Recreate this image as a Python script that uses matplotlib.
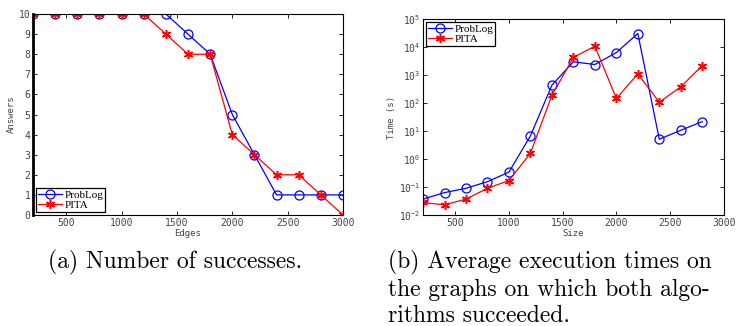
import matplotlib
matplotlib.use("Agg")
import matplotlib.pyplot as plt

# (a) number of successes
edges = [200, 400, 600, 800, 1000, 1200, 1400, 1600, 1800, 2000, 2200, 2400, 2600, 2800, 3000]
problog_ans = [10, 10, 10, 10, 10, 10, 10, 9, 8, 5, 3, 1, 1, 1, 1]
pita_ans = [10, 10, 10, 10, 10, 10, 9, 8, 8, 4, 3, 2, 2, 1, 0]

# (b) average execution times
sizes = [200, 400, 600, 800, 1000, 1200, 1400, 1600, 1800, 2000, 2200, 2400, 2600, 2800]
problog_t = [0.037, 0.063, 0.09, 0.155, 0.34, 6.7, 433, 2960, 2370, 6330, 30300, 5.1, 10.6, 21.7]
pita_t = [0.028, 0.023, 0.037, 0.09, 0.17, 1.6, 190, 4230, 10700, 145, 1100, 107, 377, 2180]

legfont = {"family": "Liberation Serif", "size": 8}
labfont = dict(family="DejaVu Sans Mono", size=6.5)
star = (6, 2, 0)  # asterisk marker, like matlab's '*'

fig = plt.figure(figsize=(7.37, 3.26), dpi=100)
ax1 = fig.add_axes([0.0448, 0.3405, 0.4206, 0.6165])
ax2 = fig.add_axes([0.574, 0.3405, 0.408, 0.6012])

def style(ax):
    ax.tick_params(direction="in", top=True, right=True, length=3, width=0.6,
                   labelsize=7, labelcolor="#444444", pad=2)
    for lab in ax.get_xticklabels() + ax.get_yticklabels():
        lab.set_family("DejaVu Sans Mono")
    for s in ax.spines.values():
        s.set_linewidth(0.8)

ax1.plot(edges, problog_ans, "-o", color="blue", mfc="none", mec="blue", ms=6.5, lw=0.9,
         mew=0.9, label="ProbLog")
ax1.plot(edges, pita_ans, "-", marker=star, color="red", ms=6.5, lw=0.9, mew=1.1, label="PITA")
ax1.set_xlim(200, 3000)
ax1.set_ylim(0, 10)
ax1.set_xticks([500, 1000, 1500, 2000, 2500, 3000])
ax1.set_yticks(range(0, 11))
style(ax1)
ax1.spines["left"].set_linewidth(2.0)
ax1.set_xlabel("Edges", fontdict=labfont, color="#444444", labelpad=1)
ax1.set_ylabel("Answers", fontdict=labfont, color="#444444", labelpad=2)
leg1 = ax1.legend(loc="lower left", prop=legfont, fancybox=False, edgecolor="black",
                  framealpha=1, borderpad=0.15, handlelength=2.2, handletextpad=0.2,
                  labelspacing=0.05, borderaxespad=0.3)
leg1.get_frame().set_linewidth(0.9)

ax2.plot(sizes, problog_t, "-o", color="blue", mfc="none", mec="blue", ms=6.5, lw=0.9,
         mew=0.9, label="ProbLog")
ax2.plot(sizes, pita_t, "-", marker=star, color="red", ms=6.5, lw=0.9, mew=1.1, label="PITA")
ax2.set_yscale("log")
ax2.set_xlim(200, 3000)
ax2.set_ylim(1e-2, 1e5)
ax2.set_xticks([500, 1000, 1500, 2000, 2500, 3000])
ax2.set_yticks([1e-2, 1e-1, 1e0, 1e1, 1e2, 1e3, 1e4, 1e5])
ax2.minorticks_off()
style(ax2)
ax2.set_xlabel("Size", fontdict=labfont, color="#444444", labelpad=1)
ax2.set_ylabel("Time (s)", fontdict=labfont, color="#444444", labelpad=2)
leg2 = ax2.legend(loc="upper left", prop=legfont, fancybox=False, edgecolor="black",
                  framealpha=1, borderpad=0.15, handlelength=2.2, handletextpad=0.2,
                  labelspacing=0.05, borderaxespad=0.3)
leg2.get_frame().set_linewidth(0.9)

capfont = dict(family="cmr10", size=17)
fig.text(48 / 737, 1 - 262 / 326, "(a) Number of successes.", ha="left", va="center", **capfont)
fig.text(388 / 737, 1 - 262 / 326, "(b) Average execution times on", ha="left", va="center", **capfont)
fig.text(388 / 737, 1 - 290 / 326, "the graphs on which both algo-", ha="left", va="center", **capfont)
fig.text(388 / 737, 1 - 316 / 326, "rithms succeeded.", ha="left", va="center", **capfont)

fig.savefig("out.png", dpi=100)
